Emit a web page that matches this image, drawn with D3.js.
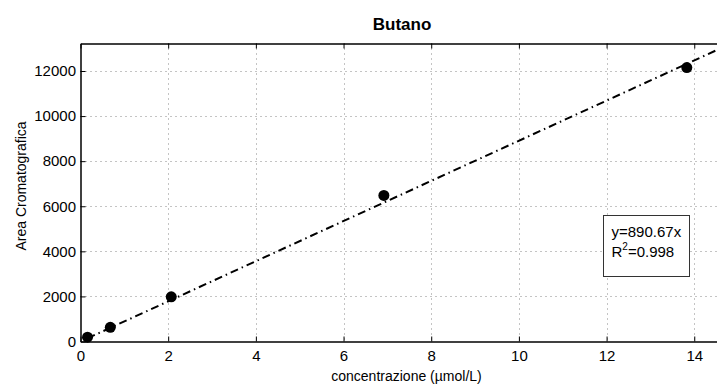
<!DOCTYPE html>
<html><head><meta charset="utf-8">
<script src="https://cdn.jsdelivr.net/npm/d3@7"></script>
<style>body{margin:0;background:#fff}svg{display:block;font-family:"Liberation Sans",Arial,sans-serif}</style>
</head><body><div id="chart"></div>
<script>
const concentrations = [0.16, 0.68, 2.07, 6.92, 13.83];
const areas = [190, 630, 1980, 6480, 12150];
const slope = 890.67;
const fitRange = [0.16, 15];
const xTicks = [0, 2, 4, 6, 8, 10, 12, 14];
const yTicks = [0, 2000, 4000, 6000, 8000, 10000, 12000];
const titleText = "Butano";
const xLabel = "concentrazione (\u00b5mol/L)";
const yLabel = "Area Cromatografica";

(function () {
const W = 717, H = 386;
const mLeft = 80.5, mTop = 43.5, mBottom = 341.5;
const x = d3.scaleLinear().domain([0, 15]).range([mLeft, mLeft + 15 * 43.84]);
const y = d3.scaleLinear().domain([0, 13220]).range([mBottom, mTop]);
const mRight = x(15);

const svg = d3.select("#chart").append("svg").attr("width", W).attr("height", H);
svg.append("defs").append("clipPath").attr("id", "clip")
  .append("rect").attr("x", mLeft).attr("y", mTop).attr("width", mRight - mLeft).attr("height", mBottom - mTop);

// grid
const grid = svg.append("g").attr("stroke", "#888").attr("stroke-width", 1).attr("stroke-dasharray", "1,4");
grid.selectAll(".gx").data(xTicks.filter(d => d > 0)).join("line")
  .attr("x1", d => Math.round(x(d)) + 0.5).attr("x2", d => Math.round(x(d)) + 0.5)
  .attr("y1", mTop).attr("y2", mBottom);
grid.selectAll(".gy").data(yTicks.filter(d => d > 0)).join("line")
  .attr("y1", d => Math.round(y(d)) + 0.5).attr("y2", d => Math.round(y(d)) + 0.5)
  .attr("x1", mLeft).attr("x2", mRight);

// axes
const xAxis = d3.axisBottom(x).tickValues(xTicks).tickFormat(d3.format("d")).tickSizeInner(-5).tickSizeOuter(0).tickPadding(9);
const gx = svg.append("g").attr("transform", `translate(0,${mBottom})`).call(xAxis);
const xTop = d3.axisTop(x).tickValues(xTicks).tickSizeInner(-5).tickSizeOuter(0).tickFormat("");
const gxt = svg.append("g").attr("transform", `translate(0,${mTop})`).call(xTop);
const yAxis = d3.axisLeft(y).tickValues(yTicks).tickFormat(d3.format("d")).tickSizeInner(-5).tickSizeOuter(0).tickPadding(4.5);
const gy = svg.append("g").attr("transform", `translate(${mLeft},0)`).call(yAxis);
[gx, gxt, gy].forEach(g => {
  g.select(".domain").attr("stroke", "#000").attr("stroke-width", 1.5);
  g.selectAll(".tick line").attr("stroke", "#000");
  g.selectAll("text").attr("font-size", 15).attr("fill", "#000")
    .attr("font-family", "'Liberation Sans', Arial, sans-serif");
});

// fit line
const lineData = fitRange.map(v => [v, slope * v]);
svg.append("path").attr("clip-path", "url(#clip)")
  .attr("d", d3.line().x(d => x(d[0])).y(d => y(d[1]))(lineData))
  .attr("fill", "none").attr("stroke", "#000").attr("stroke-width", 2)
  .attr("stroke-dasharray", "8,4,1.5,4");

// points
svg.append("g").selectAll("circle").data(concentrations.map((c, i) => [c, areas[i]])).join("circle")
  .attr("cx", d => x(d[0])).attr("cy", d => y(d[1])).attr("r", 5.5).attr("fill", "#000");

// text box
const bx = 603.5, by = 215.5, bw = 86, bh = 61;
svg.append("rect").attr("x", bx).attr("y", by).attr("width", bw).attr("height", bh)
  .attr("fill", "#fff").attr("stroke", "#333").attr("stroke-width", 1);
svg.append("text").attr("x", bx + 8).attr("y", by + 21).attr("font-size", 15).text("y=" + slope + "x");
const t2 = svg.append("text").attr("x", bx + 8).attr("y", by + 41).attr("font-size", 15);
t2.append("tspan").text("R");
t2.append("tspan").attr("dy", -7).attr("font-size", 10).text("2");
t2.append("tspan").attr("dy", 7).text("=0.998");

// labels
svg.append("text").attr("x", 402).attr("y", 30).attr("text-anchor", "middle")
  .attr("font-size", 17).attr("font-weight", "bold").text(titleText);
svg.append("text").attr("x", 406.5).attr("y", 381).attr("text-anchor", "middle")
  .attr("font-size", 14).text(xLabel);
svg.append("text").attr("transform", `translate(26,186) rotate(-90)`).attr("text-anchor", "middle")
  .attr("font-size", 14).text(yLabel);
})();
</script></body></html>
